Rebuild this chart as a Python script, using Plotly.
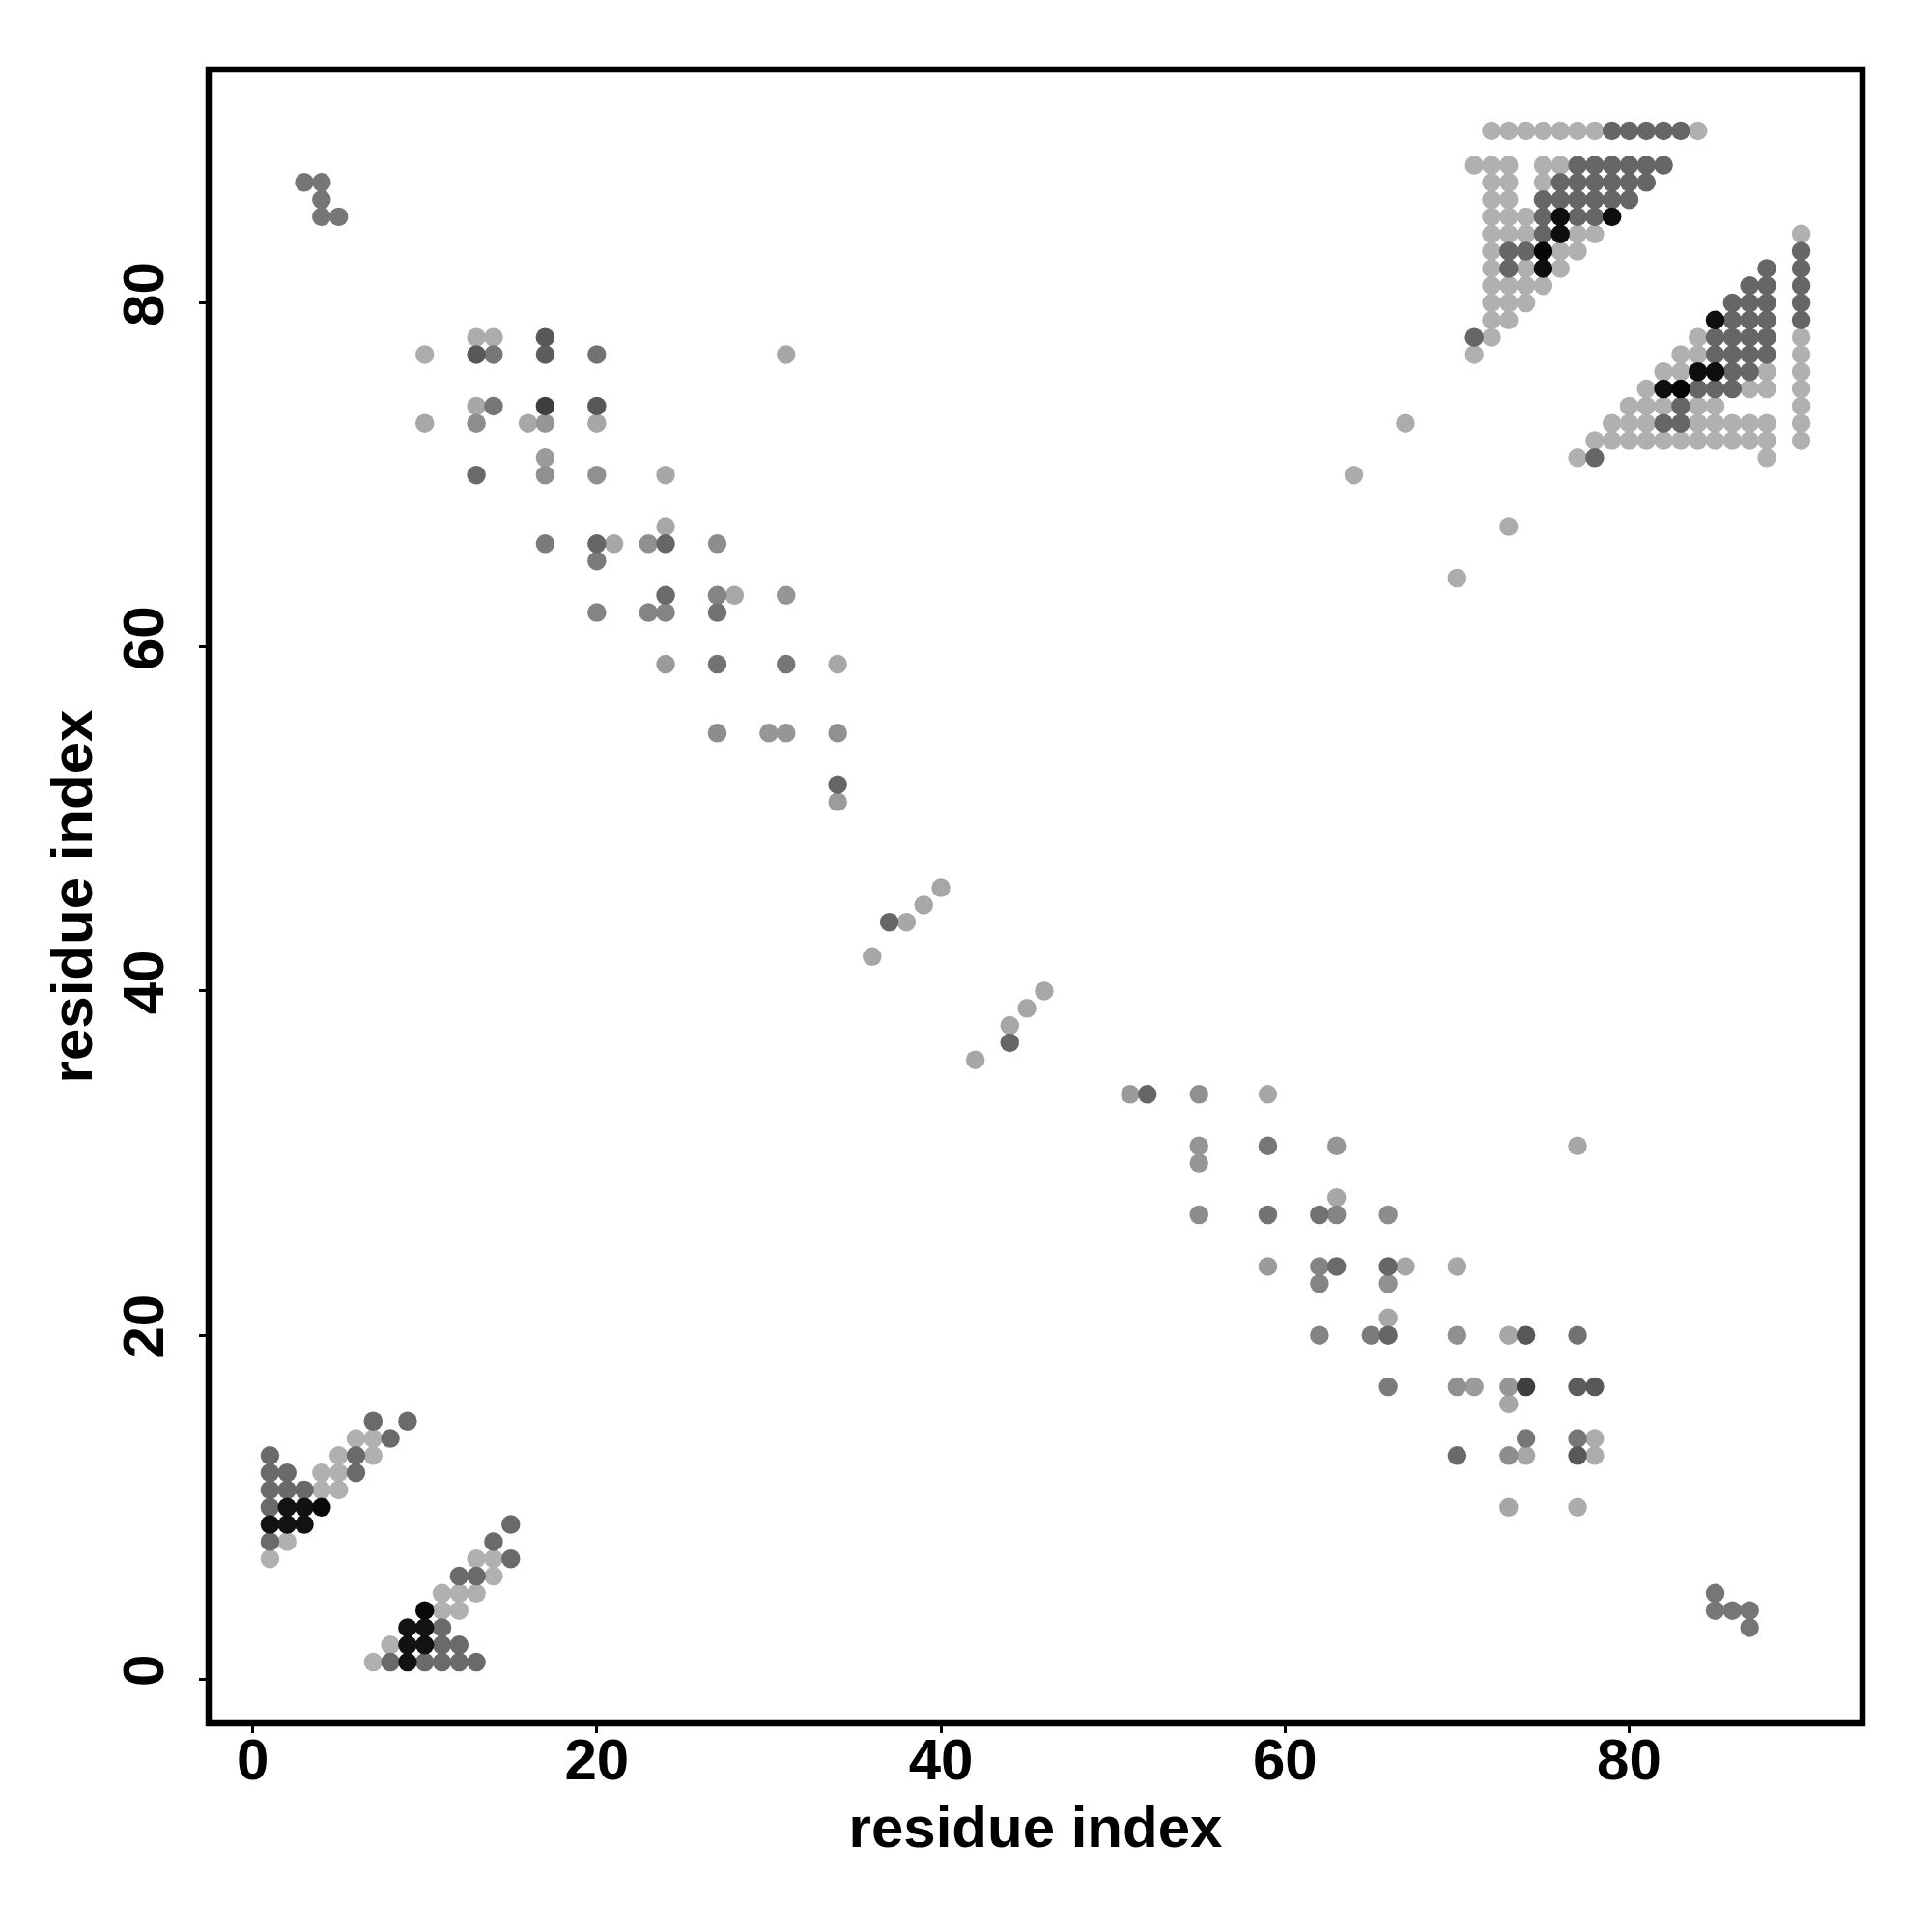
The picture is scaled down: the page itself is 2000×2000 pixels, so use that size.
import plotly.graph_objects as go

# ---------------- data: contact map (upper triangle i < j; map is symmetric) ----------------
# score: 0 = weak (light grey) ... 1 = strong (black)

# N-terminal hairpin cluster
nterm_i = [7, 9, 6, 7, 8, 1, 5, 6, 7, 1, 2, 4, 5, 6, 1, 2, 3, 4, 5, 1, 2, 3, 4, 1, 2, 3, 1, 2, 1]
nterm_j = [15, 15, 14, 14, 14, 13, 13, 13, 13, 12, 12, 12, 12, 12, 11, 11, 11, 11, 11,
           10, 10, 10, 10, 9, 9, 9, 8, 8, 7]
nterm_s = [0.40, 0.40, 0.00, 0.00, 0.40, 0.40, 0.00, 0.40, 0.00, 0.40, 0.40, 0.00, 0.00, 0.40,
           0.40, 0.40, 0.40, 0.00, 0.00, 0.40, 0.90, 0.90, 0.95, 0.90, 0.90, 0.90, 0.40, 0.00, 0.00]

# N/C terminal contacts
term_i = [3, 4, 4, 4, 5]
term_j = [87, 87, 86, 85, 85]
term_s = [0.33, 0.33, 0.33, 0.33, 0.33]

# long-range scattered contacts
long_i = [10, 13, 14, 17, 13, 14, 17, 20, 31,
          13, 14, 17, 20,
          10, 13, 16, 17, 20,
          17,
          13, 17, 20, 24,
          24,
          17, 20, 21, 23, 24, 27,
          20,
          24, 27, 28, 31,
          20, 23, 24, 27,
          24, 27, 31, 34,
          27, 30, 31, 34,
          34, 34,
          36, 37, 38, 39, 40,
          64, 67]
long_j = [77, 78, 78, 78, 77, 77, 77, 77, 77,
          74, 74, 74, 74,
          73, 73, 73, 73, 73,
          71,
          70, 70, 70, 70,
          67,
          66, 66, 66, 66, 66, 66,
          65,
          63, 63, 63, 63,
          62, 62, 62, 62,
          59, 59, 59, 59,
          55, 55, 55, 55,
          52, 51,
          42, 44, 44, 45, 46,
          70, 73]
long_s = [0.02, 0.02, 0.02, 0.50, 0.50, 0.33, 0.48, 0.35, 0.05,
          0.05, 0.33, 0.65, 0.50,
          0.05, 0.20, 0.05, 0.15, 0.05,
          0.12,
          0.40, 0.18, 0.18, 0.05,
          0.05,
          0.30, 0.42, 0.05, 0.18, 0.42, 0.20,
          0.30,
          0.40, 0.25, 0.05, 0.15,
          0.25, 0.25, 0.25, 0.35,
          0.12, 0.35, 0.33, 0.05,
          0.20, 0.15, 0.15, 0.18,
          0.42, 0.12,
          0.05, 0.42, 0.05, 0.05, 0.05,
          0.02, 0.02]

# C-terminal helix/sheet cluster
cterm_i = [72, 73, 74, 75, 76, 77, 78, 79, 80, 81, 82, 83, 84,
           71, 72, 73, 75, 76, 77, 78, 79, 80, 81, 82,
           72, 73, 75, 76, 77, 78, 79, 80, 81,
           72, 73, 75, 76, 77, 78, 79, 80,
           72, 73, 74, 75, 76, 77, 78, 79,
           72, 73, 74, 75, 76, 77, 78,
           72, 73, 74, 75, 76, 77,
           72, 73, 74, 75, 76,
           72, 73, 74, 75,
           72, 73, 74,
           72, 73,
           71, 72,
           71]
cterm_j = [90] * 13 + [88] * 11 + [87] * 9 + [86] * 8 + [85] * 8 + [84] * 7 + [83] * 6 + \
          [82] * 5 + [81] * 4 + [80] * 3 + [79] * 2 + [78] * 2 + [77]
cterm_s = [0, 0, 0, 0, 0, 0, 0, 0.42, 0.42, 0.42, 0.42, 0.42, 0,
           0, 0, 0, 0, 0, 0.42, 0.42, 0.42, 0.42, 0.42, 0.42,
           0, 0, 0, 0.42, 0.42, 0.42, 0.42, 0.42, 0.42,
           0, 0, 0.42, 0.42, 0.42, 0.42, 0.42, 0.42,
           0, 0, 0, 0.42, 0.92, 0.42, 0.42, 0.92,
           0, 0, 0, 0.42, 0.92, 0, 0,
           0, 0.42, 0.42, 0.97, 0, 0,
           0, 0.42, 0, 0.92, 0,
           0, 0, 0, 0,
           0, 0, 0,
           0, 0,
           0.42, 0,
           0]

tick_vals = [0, 20, 40, 60, 80]
axis_label = "residue index"

# ---------------- build symmetric point set ----------------
res_i = nterm_i + term_i + long_i + cterm_i
res_j = nterm_j + term_j + long_j + cterm_j
score = nterm_s + term_s + long_s + cterm_s

pts = list(zip(res_i, res_j, score)) + list(zip(res_j, res_i, score))
pts.sort(key=lambda p: p[2])
xs = [p[0] for p in pts]
ys = [p[1] for p in pts]
cs = [p[2] for p in pts]

fig = go.Figure(go.Scatter(
    x=xs, y=ys, mode="markers",
    marker=dict(size=19.5, color=cs, colorscale=[[0, "#b0b0b0"], [1, "#000000"]],
                cmin=0, cmax=1, line=dict(width=0)),
    hoverinfo="x+y",
))

font = dict(family="Liberation Sans, Arial, sans-serif", size=60, color="black", weight="bold")
axis_common = dict(
    range=[-2.56, 93.56], tickvals=tick_vals, ticks="outside", ticklen=9, tickwidth=3,
    tickcolor="black", showgrid=False, zeroline=False, showline=False,
    tickfont=font, title=dict(text=axis_label, font=font),
)
fig.update_layout(
    width=2000, height=2000,
    margin=dict(l=208, r=80, t=64, b=224),
    paper_bgcolor="white", plot_bgcolor="white",
    showlegend=False,
    xaxis=dict(**axis_common, ticklabelstandoff=-24),
    yaxis=dict(**axis_common, tickangle=-90, ticklabelstandoff=13),
    shapes=[dict(type="rect", xref="paper", yref="paper", x0=0, x1=1, y0=0, y1=1,
                 line=dict(color="black", width=6.5), fillcolor="rgba(0,0,0,0)", layer="above")],
)
fig.update_xaxes(title_standoff=15)
fig.update_yaxes(title_standoff=0)

fig.write_html("out.html")
